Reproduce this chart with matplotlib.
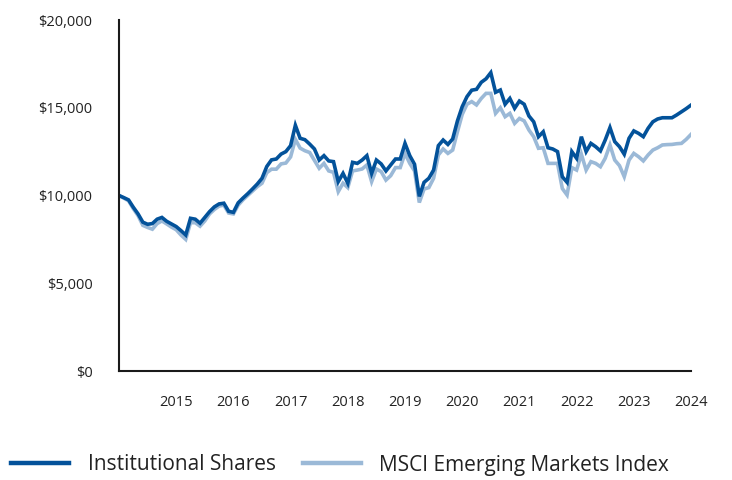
import matplotlib
matplotlib.use("Agg")
import matplotlib.pyplot as plt
import numpy as np

plt.rcParams['font.family'] = ['Open Sans', 'DejaVu Sans']

# Monthly growth of $10,000, Jan 2014 .. Jan 2024
institutional = [
    10000, 9880, 9750, 9330, 8950, 8480, 8360, 8400, 8650, 8750, 8530, 8380,
    8230, 8000, 7750, 8700, 8650, 8420, 8750, 9080, 9350, 9520, 9560, 9100,
    9040, 9580, 9850, 10100, 10370, 10650, 10980, 11650, 12030, 12080, 12360, 12500,
    12840, 14000, 13260, 13180, 12930, 12650, 12020, 12270, 11970, 11930, 10790, 11260,
    10700, 11890, 11830, 12020, 12270, 11260, 12020, 11800, 11400, 11740, 12080, 12080,
    12970, 12270, 11780, 9950, 10750, 10980, 11450, 12840, 13160, 12910, 13220, 14250,
    15060, 15630, 16000, 16050, 16450, 16650, 17000, 15880, 16010, 15200, 15530, 14970,
    15380, 15200, 14530, 14200, 13350, 13630, 12720, 12650, 12500, 11070, 10750, 12500,
    12120, 13350, 12500, 12970, 12780, 12540, 13160, 13870, 13070, 12780, 12350, 13260,
    13680, 13540, 13350, 13830, 14200, 14360, 14430, 14430, 14430, 14590, 14770, 14950,
    15150,
]
msci_em = [
    10000, 9850, 9700, 9250, 8850, 8300, 8180, 8080, 8400, 8550, 8380, 8200,
    8050, 7750, 7500, 8450, 8450, 8250, 8550, 8950, 9200, 9400, 9450, 9000,
    8950, 9450, 9750, 10000, 10250, 10500, 10700, 11300, 11500, 11500, 11800, 11850,
    12200, 13200, 12700, 12550, 12450, 12000, 11550, 11830, 11400, 11320, 10220, 10700,
    10450, 11400, 11450, 11510, 11740, 10790, 11510, 11360, 10880, 11130, 11590, 11590,
    12400, 11830, 11400, 9600, 10370, 10450, 10980, 12310, 12650, 12400, 12590, 13630,
    14620, 15200, 15350, 15160, 15530, 15820, 15820, 14680, 15000, 14490, 14680, 14110,
    14390, 14250, 13730, 13350, 12690, 12720, 11830, 11830, 11830, 10400, 10030, 11590,
    11450, 12350, 11450, 11930, 11830, 11640, 12120, 12880, 12020, 11700, 11070, 12020,
    12400, 12210, 11970, 12310, 12590, 12720, 12880, 12900, 12910, 12950, 12970, 13200,
    13480,
]
start_year = 2014
year_ticks = [2015, 2016, 2017, 2018, 2019, 2020, 2021, 2022, 2023, 2024]
y_ticks = [0, 5000, 10000, 15000, 20000]
series_names = ["Institutional Shares", "MSCI Emerging Markets Index"]

dark = '#03529a'
light = '#9bb9d7'
text_color = '#222222'

x = start_year + np.arange(len(institutional)) / 12.0

fig = plt.figure(figsize=(7.32, 4.8), dpi=100)
ax = fig.add_axes([119/732, 1-371/480, (691-119)/732, (371-20)/480])

ax.plot(x, msci_em, color=light, lw=2.6, solid_joinstyle='miter', label=series_names[1])
ax.plot(x, institutional, color=dark, lw=2.6, solid_joinstyle='miter', label=series_names[0])

ax.set_xlim(start_year, year_ticks[-1])
ax.set_ylim(0, 20000)
ax.set_xticks(year_ticks)
ax.set_xticklabels([str(y) for y in year_ticks])
ax.set_yticks(y_ticks)
ax.set_yticklabels(['${:,.0f}'.format(v) for v in y_ticks])

for s in ['top', 'right']:
    ax.spines[s].set_visible(False)
for s in ['left', 'bottom']:
    ax.spines[s].set_color('#1a1a1a')
    ax.spines[s].set_linewidth(1.5)

ax.tick_params(axis='y', length=0, pad=19, labelsize=10.5, labelcolor=text_color)
ax.tick_params(axis='x', length=0, pad=17, labelsize=10.5, labelcolor=text_color)

handles, labels = ax.get_legend_handles_labels()
order = [1, 0]
leg = fig.legend([handles[i] for i in order], [labels[i] for i in order],
                 loc='center', bbox_to_anchor=(340/732, 1-465/480), ncol=2,
                 frameon=False, fontsize=15, handlelength=2.8, handletextpad=0.87,
                 columnspacing=1.3, borderaxespad=0, borderpad=0)
for t in leg.get_texts():
    t.set_color(text_color)
for l in leg.get_lines():
    l.set_linewidth(3.2)

fig.savefig('out.png', dpi=100)
